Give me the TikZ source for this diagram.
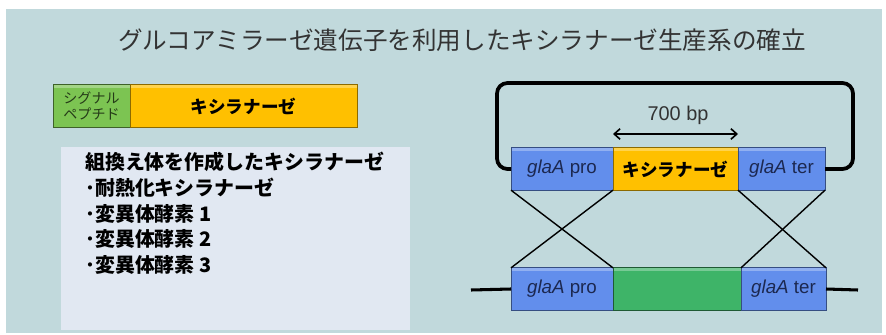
\documentclass[tikz,border=0pt]{standalone}
\usepackage{fontspec}
\setmainfont{Liberation Sans}
\newfontfamily\jpfont{Noto Sans CJK JP}
\usepackage{xcolor}
\usepackage{tikz}
\usetikzlibrary{arrows.meta, positioning}

\definecolor{slidebg}{RGB}{193,217,220}
\definecolor{listfill}{RGB}{225,232,242}
\definecolor{glablue}{RGB}{98,142,236}
\definecolor{xylorange}{RGB}{255,192,0}
\definecolor{sigreen}{RGB}{124,196,82}
\definecolor{hostgreen}{RGB}{62,180,104}
\definecolor{glatext}{RGB}{28,40,80}

\begin{document}
\begin{tikzpicture}[
    x=0.03cm, y=-0.03cm,
    genebox/.style={draw, line width=0.8pt, minimum height=1.27cm, inner sep=0pt, outer sep=0pt,
        font=\fontsize{16}{19}\selectfont, text=glatext,
        path picture={\fill[white, opacity=0.3] (path picture bounding box.north west)
            rectangle ([yshift=-3pt]path picture bounding box.north east);}},
    probox/.style={genebox, fill=glablue, draw=glablue!55!black},
    xylbox/.style={genebox, fill=xylorange, draw=xylorange!55!black, text=black,
        font=\jpfont\bfseries\fontsize{15}{18}\selectfont},
    listitem/.style={anchor=west, inner sep=0pt, font=\jpfont\bfseries\fontsize{17}{20}\selectfont},
    loopline/.style={line width=3.2pt, rounded corners=9pt},
    crossline/.style={line width=1.2pt},
    >=Stealth
]
\useasboundingbox (0,0) rectangle (886,335);
\fill[white] (0,0) rectangle (886,335);
\fill[slidebg] (6,9) rectangle (882,333);

% --- title ---
\node[font=\jpfont\fontsize{21}{25}\selectfont, text=black!80] (title) at (462,40)
    {グルコアミラーゼ遺伝子を利用したキシラナーゼ生産系の確立};

% --- signal peptide + xylanase (left) ---
\node[genebox, fill=sigreen, draw=sigreen!50!black, minimum width=2.31cm, align=center,
    font=\jpfont\fontsize{12}{13}\selectfont, text=sigreen!30!black] (sig) at (91.5,106)
    {シグナル\\ペプチド};
\node[xylbox, minimum width=6.81cm, right=0pt of sig] (xyl) {キシラナーゼ};

% --- list of enzymes ---
\node[fill=listfill, minimum width=10.47cm, minimum height=5.49cm, inner sep=0pt] (listbg) at (235.5,238.5) {};
\foreach \txt [count=\i] in {組換え体を作成したキシラナーゼ, ･耐熱化キシラナーゼ,
    ･変異体酵素 1, ･変異体酵素 2, ･変異体酵素 3}
    \node[listitem] (item\i) at (85,{162+(\i-1)*25.8}) {\txt};

% --- plasmid (top row) ---
\node[probox, minimum width=3.06cm] (tpro) at (562,169) {\textit{glaA} pro};
\node[xylbox, minimum width=3.75cm, right=0pt of tpro] (txyl) {キシラナーゼ};
\node[probox, minimum width=2.61cm, right=0pt of txyl] (tter) {\textit{glaA} ter};

\draw[loopline] (tpro.west) -- ++(-14,0) |- (853,83) |- (tter.east);

\node[font=\fontsize{17}{20}\selectfont, text=black!80] (bp) at (678,115) {700 bp};
\draw[{Straight Barb[length=5pt,width=9pt]}-{Straight Barb[length=5pt,width=9pt]}, line width=1.4pt]
    (txyl.west |- 0,134) -- (txyl.east |- 0,134);

% --- host genome (bottom row) ---
\node[probox, minimum width=3.06cm] (bpro) at (562,289) {\textit{glaA} pro};
\node[genebox, fill=hostgreen, draw=hostgreen!50!black, minimum width=3.84cm, right=0pt of bpro] (bgene) {};
\node[probox, minimum width=2.55cm, right=0pt of bgene] (bter) {\textit{glaA} ter};

\coordinate (chrL) at (471,290);
\coordinate (chrR) at (858,290);
\draw[line width=2.6pt] (chrL) -- (bpro.west);
\draw[line width=2.6pt] (bter.east) -- (chrR);

% --- crossover ---
\draw[crossline] (tpro.south west) -- (bpro.north east);
\draw[crossline] (tpro.south east) -- (bpro.north west);
\draw[crossline] (tter.south west) -- (bter.north east);
\draw[crossline] (tter.south east) -- (bter.north west);

\end{tikzpicture}
\end{document}
